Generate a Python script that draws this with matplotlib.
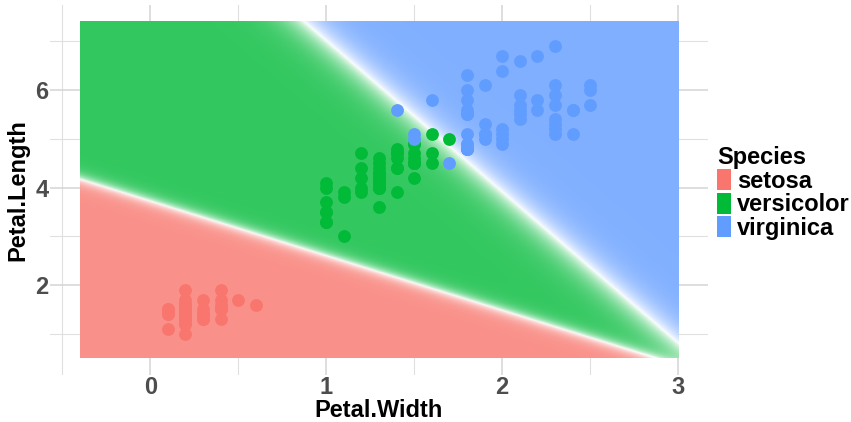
import numpy as np
import matplotlib
matplotlib.use("Agg")
import matplotlib.pyplot as plt
from matplotlib.patches import Patch
from matplotlib.ticker import MultipleLocator

# iris petal measurements, by species
setosa_width = [0.2, 0.2, 0.2, 0.2, 0.2, 0.4, 0.3, 0.2, 0.2, 0.1, 0.2, 0.2, 0.1, 0.1, 0.2, 0.4, 0.4,
                0.3, 0.3, 0.3, 0.2, 0.4, 0.2, 0.5, 0.2, 0.2, 0.4, 0.2, 0.2, 0.2, 0.2, 0.4, 0.1, 0.2,
                0.2, 0.2, 0.2, 0.1, 0.2, 0.2, 0.3, 0.3, 0.2, 0.6, 0.4, 0.3, 0.2, 0.2, 0.2, 0.2]
setosa_length = [1.4, 1.4, 1.3, 1.5, 1.4, 1.7, 1.4, 1.5, 1.4, 1.5, 1.5, 1.6, 1.4, 1.1, 1.2, 1.5, 1.3,
                 1.4, 1.7, 1.5, 1.7, 1.5, 1.0, 1.7, 1.9, 1.6, 1.6, 1.5, 1.4, 1.6, 1.6, 1.5, 1.5, 1.4,
                 1.5, 1.2, 1.3, 1.4, 1.3, 1.5, 1.3, 1.3, 1.3, 1.6, 1.9, 1.4, 1.6, 1.4, 1.5, 1.4]
versicolor_width = [1.4, 1.5, 1.5, 1.3, 1.5, 1.3, 1.6, 1.0, 1.3, 1.4, 1.0, 1.5, 1.0, 1.4, 1.3, 1.4, 1.5,
                    1.0, 1.5, 1.1, 1.8, 1.3, 1.5, 1.2, 1.3, 1.4, 1.4, 1.7, 1.5, 1.0, 1.1, 1.0, 1.2, 1.6,
                    1.5, 1.6, 1.5, 1.3, 1.3, 1.3, 1.2, 1.4, 1.2, 1.0, 1.3, 1.2, 1.3, 1.3, 1.1, 1.3]
versicolor_length = [4.7, 4.5, 4.9, 4.0, 4.6, 4.5, 4.7, 3.3, 4.6, 3.9, 3.5, 4.2, 4.0, 4.7, 3.6, 4.4, 4.5,
                     4.1, 4.5, 3.9, 4.8, 4.0, 4.9, 4.7, 4.3, 4.4, 4.8, 5.0, 4.5, 3.5, 3.8, 3.7, 3.9, 5.1,
                     4.5, 4.5, 4.7, 4.4, 4.1, 4.0, 4.4, 4.6, 4.0, 3.3, 4.2, 4.2, 4.2, 4.3, 3.0, 4.1]
virginica_width = [2.5, 1.9, 2.1, 1.8, 2.2, 2.1, 1.7, 1.8, 1.8, 2.5, 2.0, 1.9, 2.1, 2.0, 2.4, 2.3, 1.8,
                   2.2, 2.3, 1.5, 2.3, 2.0, 2.0, 1.8, 2.1, 1.8, 1.8, 1.8, 2.1, 1.6, 1.9, 2.0, 2.2, 1.5,
                   1.4, 2.3, 2.4, 1.8, 1.8, 2.1, 2.4, 2.3, 1.9, 2.3, 2.5, 2.3, 1.9, 2.0, 2.3, 1.8]
virginica_length = [6.0, 5.1, 5.9, 5.6, 5.8, 6.6, 4.5, 6.3, 5.8, 6.1, 5.1, 5.3, 5.5, 5.0, 5.1, 5.3, 5.5,
                    6.7, 6.9, 5.0, 5.7, 4.9, 6.7, 4.9, 5.7, 6.0, 4.8, 4.9, 5.6, 5.8, 6.1, 6.4, 5.6, 5.1,
                    5.6, 6.1, 5.6, 5.5, 4.8, 5.4, 5.6, 5.1, 5.1, 5.9, 5.7, 5.2, 5.0, 5.2, 5.4, 5.1]

species = ["setosa", "versicolor", "virginica"]
colors = ["#F8766D", "#00BA38", "#619CFF"]

# decision boundaries: length = intercept + slope * width
# first one splits setosa/versicolor, second versicolor/virginica
boundary_intercept = [3.71, 10.1]
boundary_slope = [-1.12, -3.1]
boundary_sharpness = [12.0, 3.6]

widths = [setosa_width, versicolor_width, virginica_width]
lengths = [setosa_length, versicolor_length, virginica_length]

all_w = np.concatenate([np.array(w) for w in widths])
all_l = np.concatenate([np.array(l) for l in lengths])
x0, x1 = all_w.min() - 0.5, all_w.max() + 0.5
y0, y1 = all_l.min() - 0.5, all_l.max() + 0.5

# class probabilities on a grid (softmax of cumulative scores)
gx = np.linspace(x0, x1, 400)
gy = np.linspace(y0, y1, 400)
XX, YY = np.meshgrid(gx, gy)
z1 = boundary_sharpness[0] * (YY - (boundary_intercept[0] + boundary_slope[0] * XX))
z2 = boundary_sharpness[1] * (YY - (boundary_intercept[1] + boundary_slope[1] * XX))
scores = np.stack([np.zeros_like(XX), z1, z1 + z2])
scores -= scores.max(axis=0)
probs = np.exp(scores)
probs /= probs.sum(axis=0)
cls = probs.argmax(axis=0)
pmax = probs.max(axis=0)
alpha = 0.8 * np.clip((pmax - 0.5) / 0.5, 0, 1) ** 0.7

rgb_cols = np.array([matplotlib.colors.to_rgb(c) for c in colors])
img = rgb_cols[cls] * alpha[..., None] + (1 - alpha[..., None])

fig = plt.figure(figsize=(8.51, 4.22), dpi=100)
ax = fig.add_axes([50 / 851, 1 - 375 / 422, 658 / 851, 370 / 422])

ax.imshow(img, origin="lower", extent=[x0, x1, y0, y1], aspect="auto",
          interpolation="bilinear", zorder=1)

for w, l, c in zip(widths, lengths, colors):
    ax.scatter(w, l, s=85, color=c, linewidths=0, zorder=3)

# ggplot style 5% expansion
dx = (x1 - x0) * 0.05
dy = (y1 - y0) * 0.05
ax.set_xlim(x0 - dx, x1 + dx)
ax.set_ylim(y0 - dy, y1 + dy)

ax.xaxis.set_major_locator(MultipleLocator(1))
ax.xaxis.set_minor_locator(MultipleLocator(0.5))
ax.yaxis.set_major_locator(MultipleLocator(2))
ax.yaxis.set_minor_locator(MultipleLocator(1))
ax.grid(True, which="major", color="#D4D4D4", linewidth=1.1, zorder=0)
ax.grid(True, which="minor", color="#E0E0E0", linewidth=0.8, zorder=0)
ax.set_axisbelow(True)
for s in ax.spines.values():
    s.set_visible(False)
ax.tick_params(which="both", length=0, pad=1, labelsize=17, labelcolor="#4D4D4D")
for t in ax.get_xticklabels() + ax.get_yticklabels():
    t.set_fontfamily("Liberation Sans")
    t.set_fontweight("bold")

ax.set_xlabel("Petal.Width", fontsize=17, fontweight="bold", family="Liberation Sans", labelpad=0)
ax.set_ylabel("Petal.Length", fontsize=17, fontweight="bold", family="Liberation Sans", labelpad=4)

handles = [Patch(facecolor=c, edgecolor="none", label=s) for s, c in zip(species, colors)]
leg = fig.legend(handles=handles, loc="center left", bbox_to_anchor=(717 / 851, 1 - 193 / 422),
                 frameon=False, handlelength=0.6, handleheight=1.0, handletextpad=0.25,
                 labelspacing=0.0, borderaxespad=0, borderpad=0,
                 title="Species", alignment="left",
                 prop={"family": "Liberation Sans", "weight": "bold", "size": 17},
                 title_fontproperties={"family": "Liberation Sans", "weight": "bold", "size": 17})

plt.savefig("out.png", dpi=100)
